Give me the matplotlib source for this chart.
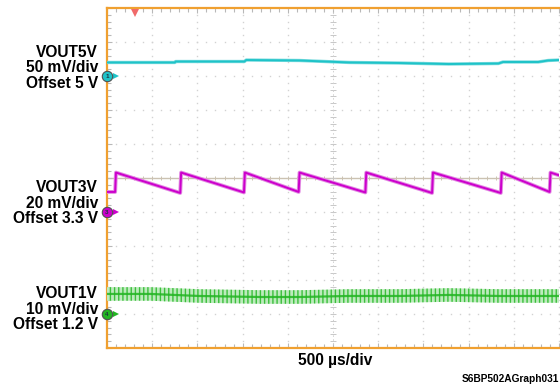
import numpy as np
import matplotlib
matplotlib.use("Agg")
from matplotlib import pyplot as plt

matplotlib.rc("font", family=["Liberation Sans", "DejaVu Sans"], weight="bold")

# scope capture: 500 us/div, 10 div across, 10 div high
# trace values are mV above each channel's offset
ch_names = ["VOUT5V", "VOUT3V", "VOUT1V"]
ch_scales = [50, 20, 10]          # mV/div
ch_offsets = ["5 V", "3.3 V", "1.2 V"]
ch_positions = [3, -1, -4]        # div, ground marker
ch_numbers = ["1", "3", "4"]
ch_colors = ["#1ec3c8", "#cc00cc", "#22b522"]

vout5_t = [0, 750, 760, 1520, 1540, 2130, 2680, 3230, 3780, 4330, 4380, 4770, 4880, 5000]
vout5_mv = [19.9, 19.9, 21.3, 21.3, 23.5, 22.8, 19.9, 19.1, 17.6, 18.4, 20.6, 20.6, 22.8, 23.5]

vout3_t = [0, 90, 99, 810, 820, 1515, 1525, 2120, 2130, 2858, 2868, 3596, 3606,
           4356, 4366, 4896, 4906, 5000]
vout3_mv = [11.8, 11.8, 23.2, 11.2, 23.2, 11.5, 23.2, 11.8, 23.2, 11.5, 23.2, 11.2, 23.2,
            11.2, 23.2, 11.8, 23.2, 21.6]

vout1_t = [0, 480, 1020, 1700, 2130, 2680, 3230, 3780, 4330, 5000]
vout1_mv = [5.9, 5.9, 5.3, 5.0, 5.0, 5.3, 5.3, 5.6, 5.3, 5.3]
vout1_noise_mv = 2.0               # half of peak-to-peak band

trigger_t = 310
time_label = "500 µs/div"
graph_id = "S6BP502AGraph031"

W, H = 560, 386
fig = plt.figure(figsize=(W / 100, H / 100), dpi=100)
ax = fig.add_axes([107 / W, 38 / H, 452 / W, 340 / H])
ax.set_xlim(0, 5000)
ax.set_ylim(-5, 5)

# graticule
grid_gray = "#d2d2d2"
xmaj = np.arange(0, 5001, 500)
ymaj = np.arange(-5, 6, 1)
xmin = np.arange(0, 5001, 100)
ymin = np.arange(-5, 5.01, 0.2)
for xv in xmaj[1:]:
    if xv == 2500:
        continue
    ax.plot(np.full_like(ymin, xv), ymin, ls="none", marker="s", ms=1.0, color=grid_gray, mew=0)
for yv in ymaj[1:-1]:
    if yv == 0:
        continue
    ax.plot(xmin, np.full_like(xmin, yv, dtype=float), ls="none", marker="s", ms=1.0,
            color=grid_gray, mew=0)
# centre cross
ax.axhline(0, color="#cbc2b2", lw=1.0, zorder=1)
ax.plot(xmin, np.zeros_like(xmin), ls="none", marker="|", ms=3.5, color="#cbc2b2", mew=0.7)
ax.plot(np.full_like(ymin, 2500), ymin, ls="none", marker="_", ms=4, color="#c8c8c8", mew=0.7)
ax.plot([2500, 2500], [-5, 5], ls=(0, (1.5, 2.5)), color="#d0d0d0", lw=0.7)

ax.set_xticks(xmaj)
ax.set_yticks(ymaj)
ax.set_xticks(xmin, minor=True)
ax.set_yticks(ymin, minor=True)
ax.tick_params(which="both", direction="in", top=True, right=False, color="#b8b8b8",
               labelbottom=False, labelleft=False, width=0.8)
ax.tick_params(which="major", length=3.5)
ax.tick_params(which="minor", length=2.8)
for side in ["left", "top", "bottom"]:
    ax.spines[side].set_color("#f0a030")
    ax.spines[side].set_linewidth(1.6)
ax.spines["right"].set_visible(False)

# traces
def to_div(mv, ch):
    return ch_positions[ch] + np.asarray(mv) / ch_scales[ch]

ax.plot(vout5_t, to_div(vout5_mv, 0), color="#7fdcdf", lw=2.4, zorder=3)
ax.plot(vout5_t, to_div(vout5_mv, 0), color=ch_colors[0], lw=1.4, zorder=3)
ax.plot(vout3_t, to_div(vout3_mv, 1), color="#e38ae3", lw=2.8, zorder=3)
ax.plot(vout3_t, to_div(vout3_mv, 1), color=ch_colors[1], lw=1.4, zorder=3)
lo = to_div(np.array(vout1_mv) - vout1_noise_mv, 2)
hi = to_div(np.array(vout1_mv) + vout1_noise_mv, 2)
ax.fill_between(vout1_t, lo, hi, facecolor="#bdebbd", edgecolor="#3cbf3c",
                hatch="||||", lw=0, zorder=3)
ax.plot(vout1_t, to_div(vout1_mv, 2), color=ch_colors[2], lw=1.6, alpha=0.85, zorder=3)

# channel ground markers
for i in range(3):
    y = ch_positions[i]
    ax.plot([95], [y], marker=">", ms=5, color=ch_colors[i], mew=0, clip_on=False, zorder=5)
    ax.plot([0], [y], marker="o", ms=7.5, color=ch_colors[i], mec="#505050", mew=0.8,
            clip_on=False, zorder=6)
    ax.text(0, y, ch_numbers[i], fontsize=4.5, ha="center", va="center", color="#203040",
            clip_on=False, zorder=7)

# trigger marker
ax.plot([trigger_t], [4.85], marker="v", ms=5.5, color="#f06a6a", mew=0, clip_on=False, zorder=5)

# labels
label_y = [68, 203, 309]
for i in range(3):
    txt = f"{ch_names[i]}\n{ch_scales[i]} mV/div\nOffset {ch_offsets[i]}"
    fig.text(98 / W, 1 - label_y[i] / H, txt, ha="right", va="center", fontsize=11.2,
             linespacing=1.05)

fig.text(335 / W, 1 - 360 / H, time_label, ha="center", va="center", fontsize=11.2)
fig.text(559 / W, 1 - 379 / H, graph_id, ha="right", va="center", fontsize=7.3)

fig.savefig("out.png", dpi=100)
